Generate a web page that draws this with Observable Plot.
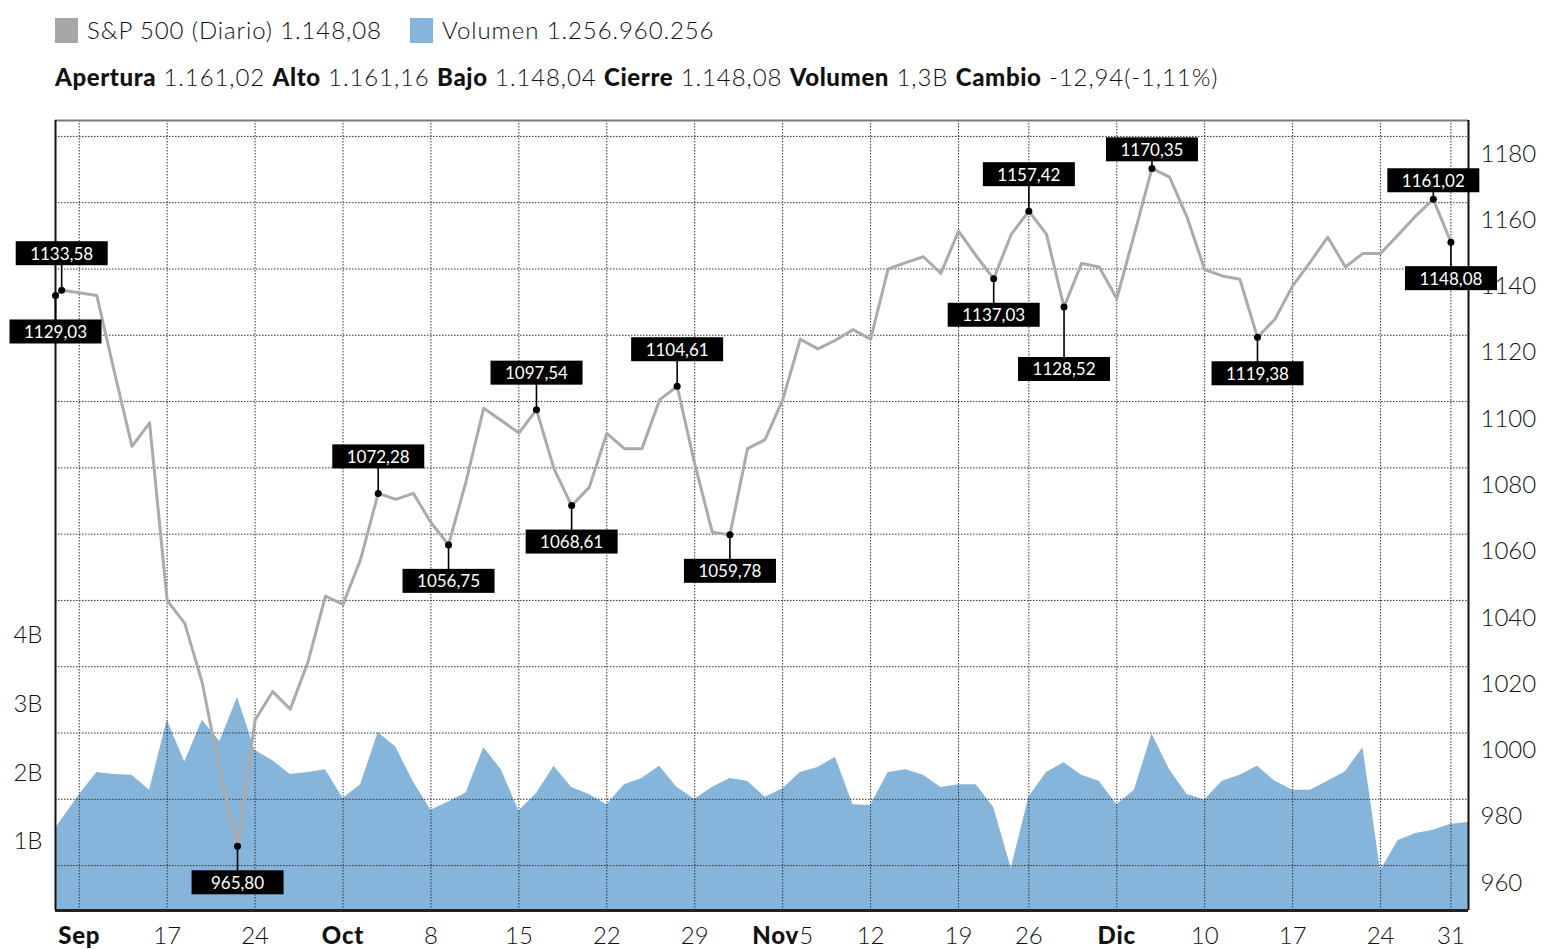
<!DOCTYPE html>
<html><head><meta charset="utf-8">
<script src="https://cdn.jsdelivr.net/npm/d3@7"></script>
<script src="https://cdn.jsdelivr.net/npm/@observablehq/plot@0.6"></script>
<style>
html,body{margin:0;padding:0;background:#fff;overflow:hidden;}
#wrap{position:relative;width:1549px;height:949px;font-family:Lato,"Open Sans",sans-serif;color:#111;}
#wrap svg{position:absolute;left:0;top:0;background:transparent !important;}
.leg{position:absolute;top:16px;height:28px;font-size:24px;font-weight:300;letter-spacing:0.9px;display:flex;align-items:center;white-space:nowrap;line-height:28px;}
.sw{display:inline-block;width:23px;height:25px;margin-right:9px;}
.sum{position:absolute;left:55px;top:63px;font-size:24px;line-height:28px;font-weight:300;letter-spacing:0.9px;white-space:nowrap;}
.sum b{font-weight:900;letter-spacing:0.6px;}
</style></head><body><div id="wrap"></div>
<script>
// ---------- data ----------
const closedDays = ["2001-09-03","2001-09-11","2001-09-12","2001-09-13","2001-09-14","2001-11-22","2001-12-25","2002-01-01"];
// S&P 500 daily close, one value per trading day from 2001-08-30 to 2001-12-31
const close = [
  1129.03,1133.58,1132.8,1132.0,1108.9,1086.5,1093.6,
  1040.0,1033.1,1015.1,988.0,965.80,
  1003.9,1012.5,1007.2,1021.3,1041.3,
  1038.8,1052.4,1072.28,1070.5,1072.3,
  1063.5,1056.75,1076.0,1098.0,1094.3,
  1090.5,1097.54,1079.7,1068.61,1074.1,
  1090.4,1085.8,1085.8,1100.5,1104.61,
  1081.2,1060.6,1059.78,1085.8,1088.5,
  1100.5,1118.8,1115.9,1118.5,1121.7,
  1118.8,1140.0,1141.9,1143.7,1138.7,
  1151.4,1144.0,1137.03,1150.5,
  1157.42,1150.5,1128.52,1141.7,1140.6,
  1131.1,1150.5,1170.35,1167.7,1155.6,
  1139.8,1137.9,1136.9,1119.38,1124.9,
  1134.9,1142.1,1149.6,1140.6,1144.7,
  1144.7,1150.3,1156.0,1161.02,
  1148.08
];
// Volume in billions (last value extends to the right edge)
const volumeB = [
  0.97,1.32,1.68,2.01,1.98,1.97,1.75,
  2.77,2.16,2.77,2.46,3.10,
  2.33,2.18,1.98,2.01,2.05,
  1.63,1.83,2.59,2.38,1.87,
  1.46,1.58,1.71,2.37,2.05,
  1.45,1.70,2.10,1.79,1.69,
  1.54,1.83,1.92,2.10,1.79,
  1.62,1.79,1.92,1.88,1.65,
  1.77,2.01,2.08,2.23,1.54,
  1.53,2.01,2.05,1.97,1.79,
  1.83,1.83,1.50,0.61,
  1.65,2.01,2.15,1.97,1.88,
  1.54,1.75,2.57,2.05,1.69,
  1.61,1.88,1.97,2.10,1.88,
  1.75,1.75,1.88,2.02,2.37,
  0.58,1.02,1.12,1.17,
  1.25696,1.28
];
const tickDates = ["2001-09-04","2001-09-17","2001-09-24","2001-10-01","2001-10-08","2001-10-15","2001-10-22","2001-10-29","2001-11-05","2001-11-12","2001-11-19","2001-11-26","2001-12-03","2001-12-10","2001-12-17","2001-12-24","2001-12-31"];
const tickLabels = ["Sep","17","24","Oct","8","15","22","29","Nov5","12","19","26","Dic","10","17","24","31"];
const priceTicks = [960,980,1000,1020,1040,1060,1080,1100,1120,1140,1160,1180];
const volumeTicks = [1e9,2e9,3e9,4e9];
const calloutDates = ["2001-08-30","2001-08-31","2001-09-21","2001-10-03","2001-10-09","2001-10-16","2001-10-18","2001-10-26","2001-10-31","2001-11-21","2001-11-26","2001-11-28","2001-12-05","2001-12-13","2001-12-28","2001-12-31"];
const calloutSide = ["below","above","below","above","below","above","below","above","below","below","above","below","above","below","above","below"];
const legendLabels = ["S&P 500 (Diario)","Volumen"];
const legendValues = ["1.148,08","1.256.960.256"];
const summaryLabels = ["Apertura","Alto","Bajo","Cierre","Volumen","Cambio"];
const summaryValues = ["1.161,02","1.161,16","1.148,04","1.148,08","1,3B","-12,94(-1,11%)"];

// ---------- layout / style ----------
const W = 1549, H = 949;
const M = {top:120, right:81, bottom:39, left:55};
const xDomain = [0.65, 81];
const yDomain = [946.45, 1184.8];
const volDomain = [0, 11.5e9];
const calloutLength = {"2001-12-05":18, "2001-12-28":18, "2001-11-28":63};
const colors = {price:"#ababab", volume:"#86b5dc", swatch:["#a7a7aa","#86b5dc"]};
const font = 'Lato, "Open Sans", sans-serif';

// ---------- derived ----------
const fmt = d3.utcFormat("%Y-%m-%d");
const dates = d3.utcDays(new Date(Date.UTC(2001,7,30)), new Date(Date.UTC(2002,0,3)))
  .filter(d => d.getUTCDay() % 6 !== 0).map(fmt).filter(s => !closedDays.includes(s));
const priceData = close.map((v,i) => ({i, date: dates[i], v}));
const volData = volumeB.map((v,i) => ({i, date: dates[i], v: v*1e9}));
const tickIdx = tickDates.map(d => dates.indexOf(d));
const pxPerUnit = (H - M.top - M.bottom) / (yDomain[1] - yDomain[0]);
const fmtNum = v => d3.format(".2f")(v).replace(".", ",");
const callouts = calloutDates.map((d,k) => {
  const i = dates.indexOf(d);
  let x = i, y = close[i];
  if (x < xDomain[0]) { const t = xDomain[0] - i; y = close[i] + t*(close[i+1]-close[i]); x = xDomain[0]; }
  const above = calloutSide[k] === "above";
  const len = calloutLength[d] ?? (above ? 36 : 37);
  return {x, y, ty: y + (above ? 1 : -1) * len / pxPerUnit, label: fmtNum(close[i])};
});

const baseStyle = {fontFamily: font, fontSize: "24px", fontWeight: 300, color: "#111", background: "transparent", overflow: "visible"};

const volPlot = Plot.plot({
  width: W, height: H, marginTop: M.top, marginRight: M.right, marginBottom: M.bottom, marginLeft: M.left,
  style: baseStyle,
  x: {domain: xDomain, axis: null},
  y: {domain: volDomain, ticks: volumeTicks, tickFormat: d => d/1e9 + "B", tickSize: 0, tickPadding: 13, label: null},
  marks: [
    Plot.areaY(volData, {x: "i", y: "v", fill: colors.volume, clip: true})
  ]
});

const pricePlot = Plot.plot({
  width: W, height: H, marginTop: M.top, marginRight: M.right, marginBottom: M.bottom, marginLeft: M.left,
  style: baseStyle,
  x: {domain: xDomain, ticks: tickIdx, tickFormat: d => tickLabels[tickIdx.indexOf(d)], tickSize: 0, tickPadding: 16, label: null},
  y: {domain: yDomain, axis: "right", ticks: priceTicks, tickFormat: d => String(d), tickSize: 0, tickPadding: 12, label: null},
  marks: [
    Plot.ruleY(priceTicks, {stroke: "#333", strokeWidth: 1, strokeDasharray: "1.5,1.5"}),
    Plot.ruleX(tickIdx, {stroke: "#333", strokeWidth: 1, strokeDasharray: "1.5,1.5"}),
    Plot.lineY(priceData, {x: "i", y: "v", stroke: colors.price, strokeWidth: 3, clip: true}),
    Plot.ruleY([yDomain[1]], {stroke: "#7a7a7a", strokeWidth: 2}),
    Plot.ruleX([xDomain[0]], {stroke: "#111", strokeWidth: 2}),
    Plot.ruleX([xDomain[1]], {stroke: "#111", strokeWidth: 2}),
    Plot.ruleY([yDomain[0]], {stroke: "#222", strokeWidth: 3}),
    Plot.link(callouts, {x1: "x", x2: "x", y1: "y", y2: "ty", stroke: "#000", strokeWidth: 1.6}),
    Plot.dot(callouts, {x: "x", y: "y", r: 3.5, fill: "#000"}),
    Plot.text(callouts, {x: "x", y: "ty", text: "label", fill: "#fff", fontSize: 17, fontWeight: 400})
  ]
});

const wrap = document.getElementById("wrap");
wrap.appendChild(volPlot);
wrap.appendChild(pricePlot);

// black boxes behind callout texts
const NS = "http://www.w3.org/2000/svg";
pricePlot.querySelectorAll('g[aria-label="text"] text').forEach(t => {
  const b = t.getBBox();
  const r = document.createElementNS(NS, "rect");
  const bw = 92, bh = 24;
  r.setAttribute("x", b.x + b.width/2 - bw/2);
  r.setAttribute("y", b.y + b.height/2 - bh/2);
  r.setAttribute("width", bw);
  r.setAttribute("height", bh);
  r.setAttribute("fill", "#000");
  if (t.getAttribute("transform")) r.setAttribute("transform", t.getAttribute("transform"));
  t.parentNode.insertBefore(r, t);
});

// bold month names in x tick labels
pricePlot.querySelectorAll('[aria-label^="x-axis"] text').forEach(t => {
  const m = t.textContent.match(/^([A-Za-z]*)(\d*)$/);
  if (m && m[1]) {
    t.textContent = "";
    const a = document.createElementNS(NS, "tspan");
    a.setAttribute("font-weight", "900"); a.setAttribute("letter-spacing", "0.8"); a.textContent = m[1]; t.appendChild(a);
    if (m[2]) { const n = document.createElementNS(NS, "tspan"); n.setAttribute("font-weight", "300"); n.textContent = m[2]; t.appendChild(n); }
  }
});
// right-axis labels sit below their gridlines
pricePlot.querySelectorAll('[aria-label^="y-axis"]').forEach(g => {
  g.setAttribute("transform", (g.getAttribute("transform") || "") + " translate(0,17.5)");
});

// legend
const lefts = [55, 410];
legendLabels.forEach((lab, k) => {
  const d = document.createElement("div");
  d.className = "leg";
  d.style.left = lefts[k] + "px";
  d.innerHTML = `<span class="sw" style="background:${colors.swatch[k]}"></span><span>${lab} ${legendValues[k]}</span>`;
  wrap.appendChild(d);
});
const s = document.createElement("div");
s.className = "sum";
s.innerHTML = summaryLabels.map((l,k) => `<b>${l}</b> ${summaryValues[k]}`).join(" ");
wrap.appendChild(s);
</script></body></html>
